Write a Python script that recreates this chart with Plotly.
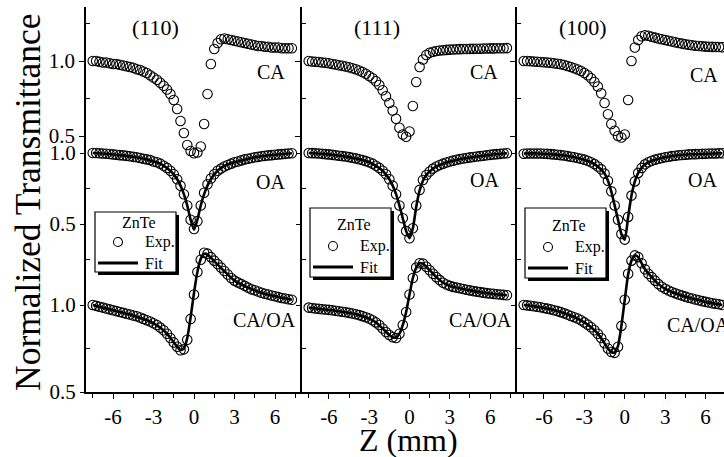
import plotly.graph_objects as go

# ---------------- data ----------------
Z = [-7.5, -7.25, -7.0, -6.75, -6.5, -6.25, -6.0, -5.75, -5.5, -5.25,
     -5.0, -4.75, -4.5, -4.25, -4.0, -3.75, -3.5, -3.25, -3.0, -2.75,
     -2.5, -2.25, -2.0, -1.75, -1.5, -1.25, -1.0, -0.75, -0.5, -0.25,
     0.0, 0.25, 0.5, 0.75, 1.0, 1.25, 1.5, 1.75, 2.0, 2.25,
     2.5, 2.75, 3.0, 3.25, 3.5, 3.75, 4.0, 4.25, 4.5, 4.75,
     5.0, 5.25, 5.5, 5.75, 6.0, 6.25, 6.5, 6.75, 7.0, 7.25]

CA_110 = [1.00, 1.00, 0.995, 0.99, 0.99, 0.985, 0.98, 0.98, 0.975, 0.97,
          0.965, 0.96, 0.955, 0.945, 0.94, 0.93, 0.92, 0.905, 0.89, 0.875,
          0.855, 0.835, 0.81, 0.78, 0.74, 0.68, 0.60, 0.52, 0.44, 0.40,
          0.385, 0.39, 0.43, 0.58, 0.78, 0.98, 1.08, 1.12, 1.145, 1.15,
          1.145, 1.14, 1.135, 1.13, 1.125, 1.12, 1.115, 1.11, 1.105, 1.10,
          1.10, 1.095, 1.095, 1.09, 1.09, 1.09, 1.085, 1.085, 1.085, 1.085]
OA_110 = [1.0, 1.0, 0.998, 0.997, 0.995, 0.993, 0.99, 0.988, 0.985, 0.983,
          0.98, 0.977, 0.973, 0.97, 0.965, 0.96, 0.955, 0.95, 0.94, 0.935,
          0.925, 0.91, 0.895, 0.875, 0.85, 0.815, 0.77, 0.71, 0.63, 0.53,
          0.465, 0.52, 0.63, 0.72, 0.78, 0.82, 0.85, 0.875, 0.89, 0.905,
          0.915, 0.925, 0.935, 0.94, 0.948, 0.955, 0.96, 0.965, 0.97, 0.973,
          0.977, 0.98, 0.983, 0.985, 0.988, 0.99, 0.992, 0.994, 0.996, 0.998]
CAOA_110 = [1.0, 0.995, 0.99, 0.985, 0.98, 0.975, 0.97, 0.965, 0.96, 0.955,
            0.95, 0.945, 0.94, 0.935, 0.928, 0.92, 0.912, 0.905, 0.895, 0.885,
            0.87, 0.855, 0.835, 0.81, 0.785, 0.76, 0.74, 0.745, 0.80, 0.92,
            1.06, 1.19, 1.26, 1.30, 1.295, 1.275, 1.255, 1.235, 1.215, 1.195,
            1.175, 1.155, 1.14, 1.13, 1.12, 1.11, 1.10, 1.09, 1.085, 1.078,
            1.07, 1.065, 1.06, 1.055, 1.05, 1.045, 1.04, 1.037, 1.033, 1.03]

CA_111 = [1.0, 0.997, 0.995, 0.993, 0.99, 0.988, 0.985, 0.98, 0.977, 0.972,
          0.968, 0.963, 0.958, 0.952, 0.945, 0.937, 0.927, 0.915, 0.90, 0.885,
          0.865, 0.84, 0.805, 0.765, 0.72, 0.67, 0.615, 0.555, 0.51, 0.495,
          0.53, 0.70, 0.86, 0.96, 1.01, 1.04, 1.055, 1.062, 1.067, 1.07,
          1.072, 1.074, 1.076, 1.077, 1.078, 1.079, 1.08, 1.08, 1.081, 1.081,
          1.082, 1.082, 1.083, 1.083, 1.084, 1.084, 1.085, 1.085, 1.085, 1.086]
OA_111 = [1.0, 0.999, 0.998, 0.996, 0.994, 0.992, 0.99, 0.987, 0.984, 0.981,
          0.978, 0.975, 0.971, 0.967, 0.962, 0.956, 0.95, 0.943, 0.935, 0.925,
          0.91, 0.895, 0.875, 0.85, 0.815, 0.77, 0.71, 0.63, 0.54, 0.45,
          0.40, 0.47, 0.63, 0.74, 0.81, 0.845, 0.87, 0.89, 0.905, 0.915,
          0.925, 0.933, 0.94, 0.946, 0.952, 0.957, 0.961, 0.965, 0.969, 0.972,
          0.975, 0.978, 0.981, 0.984, 0.987, 0.99, 0.992, 0.994, 0.996, 0.998]
CAOA_111 = [0.985, 0.983, 0.98, 0.978, 0.976, 0.974, 0.972, 0.97, 0.967, 0.964,
            0.961, 0.958, 0.955, 0.951, 0.947, 0.942, 0.936, 0.93, 0.922, 0.912,
            0.90, 0.885, 0.865, 0.845, 0.828, 0.815, 0.81, 0.835, 0.885, 0.96,
            1.06, 1.155, 1.215, 1.24, 1.238, 1.22, 1.20, 1.18, 1.16, 1.143,
            1.128, 1.118, 1.11, 1.104, 1.10, 1.096, 1.092, 1.088, 1.084, 1.08,
            1.077, 1.074, 1.071, 1.068, 1.066, 1.064, 1.062, 1.06, 1.058, 1.056]

CA_100 = [1.0, 1.0, 0.998, 0.997, 0.995, 0.993, 0.992, 0.99, 0.988, 0.985,
          0.982, 0.978, 0.973, 0.967, 0.96, 0.952, 0.943, 0.933, 0.92, 0.905,
          0.885, 0.86, 0.83, 0.785, 0.72, 0.645, 0.58, 0.535, 0.50, 0.49,
          0.51, 0.74, 1.0, 1.09, 1.14, 1.165, 1.172, 1.168, 1.162, 1.156,
          1.15, 1.145, 1.14, 1.135, 1.13, 1.125, 1.12, 1.116, 1.112, 1.108,
          1.105, 1.102, 1.10, 1.098, 1.096, 1.095, 1.094, 1.093, 1.093, 1.092]
OA_100 = [0.995, 0.996, 0.997, 0.997, 0.997, 0.996, 0.995, 0.994, 0.992, 0.99,
          0.988, 0.985, 0.982, 0.978, 0.974, 0.97, 0.965, 0.96, 0.953, 0.945,
          0.935, 0.922, 0.905, 0.885, 0.855, 0.805, 0.73, 0.63, 0.53, 0.43,
          0.39, 0.55, 0.70, 0.80, 0.86, 0.895, 0.92, 0.935, 0.945, 0.953,
          0.96, 0.965, 0.97, 0.974, 0.978, 0.981, 0.984, 0.986, 0.988, 0.99,
          0.991, 0.992, 0.993, 0.994, 0.995, 0.996, 0.997, 0.997, 0.998, 0.998]
CAOA_100 = [1.0, 0.998, 0.996, 0.993, 0.99, 0.987, 0.983, 0.979, 0.975, 0.97,
            0.965, 0.959, 0.952, 0.945, 0.937, 0.93, 0.922, 0.912, 0.90, 0.887,
            0.872, 0.855, 0.835, 0.81, 0.78, 0.75, 0.73, 0.725, 0.76, 0.88,
            1.03, 1.18, 1.255, 1.285, 1.275, 1.24, 1.205, 1.18, 1.16, 1.14,
            1.12, 1.105, 1.093, 1.083, 1.075, 1.067, 1.06, 1.054, 1.048, 1.042,
            1.037, 1.032, 1.027, 1.022, 1.018, 1.014, 1.01, 1.007, 1.004, 1.0]

Z_FIT = [-7.5, -6.5, -5.5, -4.5, -3.5, -3.0, -2.5, -2.0, -1.5, -1.25,
         -1.0, -0.75, -0.5, -0.25, 0.0, 0.25, 0.5, 0.75, 1.0, 1.25,
         1.5, 2.0, 2.5, 3.0, 4.0, 5.0, 6.0, 7.25]
OA_110_FIT = [1.0, 0.995, 0.985, 0.973, 0.955, 0.94, 0.925, 0.895, 0.85, 0.815,
              0.77, 0.71, 0.63, 0.53, 0.46, 0.53, 0.63, 0.71, 0.77, 0.815,
              0.85, 0.895, 0.92, 0.935, 0.96, 0.977, 0.988, 0.998]
CAOA_110_FIT = [1.0, 0.98, 0.96, 0.94, 0.912, 0.895, 0.87, 0.835, 0.785, 0.76,
                0.742, 0.75, 0.81, 0.93, 1.07, 1.19, 1.265, 1.295, 1.29, 1.272,
                1.252, 1.213, 1.175, 1.14, 1.10, 1.07, 1.05, 1.03]
OA_111_FIT = [1.0, 0.994, 0.984, 0.971, 0.95, 0.935, 0.91, 0.875, 0.815, 0.77,
              0.71, 0.63, 0.54, 0.45, 0.40, 0.47, 0.62, 0.735, 0.805, 0.845,
              0.87, 0.905, 0.925, 0.94, 0.961, 0.975, 0.987, 0.998]
CAOA_111_FIT = [0.985, 0.976, 0.967, 0.955, 0.936, 0.922, 0.90, 0.865, 0.828, 0.815,
                0.812, 0.835, 0.885, 0.96, 1.06, 1.155, 1.215, 1.24, 1.238, 1.22,
                1.20, 1.16, 1.128, 1.11, 1.092, 1.077, 1.066, 1.056]
OA_100_FIT = [0.996, 0.997, 0.992, 0.982, 0.965, 0.953, 0.935, 0.905, 0.855, 0.805,
              0.73, 0.63, 0.53, 0.43, 0.39, 0.55, 0.70, 0.80, 0.86, 0.895,
              0.92, 0.945, 0.96, 0.97, 0.984, 0.991, 0.995, 0.998]
CAOA_100_FIT = [1.0, 0.99, 0.975, 0.952, 0.922, 0.90, 0.872, 0.835, 0.78, 0.75,
                0.73, 0.727, 0.765, 0.88, 1.03, 1.175, 1.255, 1.285, 1.275, 1.24,
                1.205, 1.16, 1.12, 1.093, 1.06, 1.037, 1.018, 1.0]

PANEL_TITLES = ["(110)", "(111)", "(100)"]
X_TICKS = [-6, -3, 0, 3, 6]
X_MINOR = [-7.5, -4.5, -1.5, 1.5, 4.5, 7.5]
Y_TICKS = [0.5, 1.0]

# ---------------- layout geometry ----------------
W, H = 724, 457
L, T, B = 86, 7, 65
PW = W - L
PH = H - T - B
BOT = H - B  # 392


def px(x):
    return (x - L) / PW


def py(y):
    return (BOT - y) / PH


FONT = "Liberation Serif"
edges = [86, 302, 517, 724]
xranges = [[-8, 8], [-8, 8], [-8, -8 + (724 - 517) / 13.47]]
CA_RANGE = [1 - (BOT - 61) / 150.0, 1 + (61 - T) / 150.0]
OA_RANGE = [1 - (BOT - 153) / 142.0, 1 + (153 - T) / 142.0]
CAOA_RANGE = [0.5, 1 + (305 - T) / 174.0]

fig = go.Figure()

panels = [
    (CA_110, OA_110, CAOA_110, OA_110_FIT, CAOA_110_FIT),
    (CA_111, OA_111, CAOA_111, OA_111_FIT, CAOA_111_FIT),
    (CA_100, OA_100, CAOA_100, OA_100_FIT, CAOA_100_FIT),
]

mk = dict(symbol="circle-open", size=9.5, color="black", line=dict(width=1.1, color="black"))
fitline = dict(color="black", width=2.6, shape="spline", smoothing=0.6)

layout = dict(
    width=W, height=H,
    margin=dict(l=L, r=0, t=T, b=B, autoexpand=False),
    paper_bgcolor="white", plot_bgcolor="white",
    showlegend=False,
    font=dict(family=FONT, color="black", size=21),
)

for i in range(3):
    ca, oa, caoa, oaf, caoaf = panels[i]
    xb = "x" if i == 0 else f"x{i + 1}"
    yb = 3 * i + 1
    ycn = ["y" if yb == 1 else f"y{yb}", f"y{yb + 1}", f"y{yb + 2}"]

    fig.add_trace(go.Scatter(x=Z, y=ca, mode="markers", marker=mk, xaxis=xb, yaxis=ycn[0], cliponaxis=False))
    fig.add_trace(go.Scatter(x=Z, y=oa, mode="markers", marker=mk, xaxis=xb, yaxis=ycn[1], cliponaxis=False))
    fig.add_trace(go.Scatter(x=Z_FIT, y=oaf, mode="lines", line=fitline, xaxis=xb, yaxis=ycn[1]))
    fig.add_trace(go.Scatter(x=Z, y=caoa, mode="markers", marker=mk, xaxis=xb, yaxis=ycn[2], cliponaxis=False))
    fig.add_trace(go.Scatter(x=Z_FIT, y=caoaf, mode="lines", line=fitline, xaxis=xb, yaxis=ycn[2]))

    dom = [px(edges[i]), px(edges[i + 1])]
    xname = "xaxis" if i == 0 else f"xaxis{i + 1}"
    layout[xname] = dict(
        domain=dom, range=xranges[i], anchor=ycn[0],
        tickmode="array", tickvals=X_TICKS, ticktext=[str(v) for v in X_TICKS],
        ticks="outside", ticklen=5, tickwidth=1.3, tickcolor="black",
        minor=dict(tickmode="array", tickvals=X_MINOR, ticks="outside", ticklen=4, tickwidth=1.3, tickcolor="black"),
        showline=True, linecolor="black", linewidth=1.6,
        showgrid=False, zeroline=False,
        tickfont=dict(family=FONT, size=21, color="black"),
    )
    layout[f"xaxis{i + 4}"] = dict(
        overlaying=xb, side="top", anchor=ycn[0], range=xranges[i],
        tickmode="array", tickvals=X_TICKS, showticklabels=False,
        ticks="inside", ticklen=4, tickwidth=1.2, tickcolor="black",
        minor=dict(tickmode="array", tickvals=X_MINOR, ticks="inside", ticklen=3, tickwidth=1.2, tickcolor="black"),
        showline=True, linecolor="black", linewidth=1.6,
        showgrid=False, zeroline=False,
    )
    ranges = [CA_RANGE, OA_RANGE, CAOA_RANGE]
    minors = [[0.75, 1.25], [0.25, 0.75], [0.75]]
    for k in range(3):
        yname = "yaxis" if (yb + k) == 1 else f"yaxis{yb + k}"
        d = dict(
            range=ranges[k], anchor=xb, side="left",
            tickmode="array", tickvals=Y_TICKS, ticktext=["0.5", "1.0"],
            showticklabels=(i == 0),
            ticks="outside", ticklen=5, tickwidth=1.3, tickcolor="black",
            minor=dict(tickmode="array", tickvals=minors[k], ticks="inside", ticklen=4, tickwidth=1.3, tickcolor="black"),
            showgrid=False, zeroline=False,
            tickfont=dict(family=FONT, size=21, color="black"),
            ticklabelstandoff=0,
        )
        if k == 0:
            d["domain"] = [0, 1]
            d["showline"] = True
            d["linecolor"] = "black"
            d["linewidth"] = 1.6
        else:
            d["overlaying"] = ycn[0]
            d["showline"] = False
        layout[yname] = d

fig.update_layout(**layout)

ann = []
shapes = []


def text(x, y, s, size, xanchor="center", angle=0):
    ann.append(dict(x=px(x), y=py(y), xref="paper", yref="paper", text=s, showarrow=False,
                    xanchor=xanchor, yanchor="middle", textangle=angle,
                    font=dict(family=FONT, size=size, color="black")))


# panel titles
for cx, s in zip([155, 377, 583], PANEL_TITLES):
    text(cx, 27, s, 22)
# curve labels
for (x, y) in [(271, 72), (484, 72), (704, 75)]:
    text(x, y, "CA", 20)
for (x, y) in [(270, 182), (484, 180), (702, 180)]:
    text(x, y, "OA", 20)
for (x, y) in [(264, 320), (480, 320), (665, 325)]:
    text(x, y, "CA/OA", 20, xanchor="center" if x < 600 else "left")

# axis titles
text(28, 202, "Normalized Transmittance", 35.5, angle=-90)
text(408, 440, "Z (mm)", 32)

# legends
legs = [(95, 212, 272, 222, 242, 263), (310, 208, 277, 224, 246, 267), (525, 208, 278, 225, 247, 268)]
for (lx, top, bot, r0, r1, r2) in legs:
    wbox = 81
    shapes.append(dict(type="rect", xref="paper", yref="paper",
                       x0=px(lx + 3), x1=px(lx + wbox + 3), y0=py(bot + 3), y1=py(top + 3),
                       fillcolor="black", line=dict(width=0), layer="above"))
    shapes.append(dict(type="rect", xref="paper", yref="paper",
                       x0=px(lx), x1=px(lx + wbox), y0=py(bot), y1=py(top),
                       fillcolor="white", line=dict(color="black", width=1.2), layer="above"))
    shapes.append(dict(type="circle", xref="paper", yref="paper",
                       x0=px(lx + 23 - 4.5), x1=px(lx + 23 + 4.5), y0=py(r1 + 4.5), y1=py(r1 - 4.5),
                       line=dict(color="black", width=1.1), layer="above"))
    shapes.append(dict(type="line", xref="paper", yref="paper",
                       x0=px(lx + 3), x1=px(lx + 43), y0=py(r2), y1=py(r2),
                       line=dict(color="black", width=2.8), layer="above"))
    text(lx + 44, r0, "ZnTe", 16)
    text(lx + 48, r1, "Exp.", 16, xanchor="left")
    text(lx + 48, r2, "Fit", 16, xanchor="left")

fig.update_layout(annotations=ann, shapes=shapes)
fig.write_html(
    "out.html",
    config={"displayModeBar": False},
    post_script="document.body.style.margin='0';document.body.style.padding='0';document.body.style.overflow='hidden';",
)
